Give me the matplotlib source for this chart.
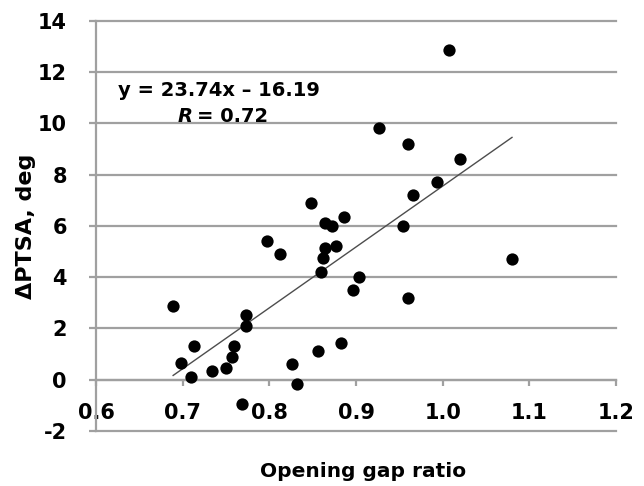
import numpy as np
import matplotlib.pyplot as plt

# opening gap ratio vs change in PTSA (deg)
gap_ratio = np.array([0.689, 0.698, 0.7135, 0.7097, 0.7336, 0.750, 0.7567, 0.7597,
                      0.7732, 0.7725, 0.768, 0.797, 0.8125, 0.8263, 0.8317, 0.856,
                      0.8825, 0.8598, 0.8618, 0.8644, 0.877, 0.897, 0.904, 0.927,
                      0.848, 0.8856, 0.8648, 0.872, 1.0068, 0.960, 1.0195, 0.9934,
                      0.9657, 0.9548, 1.080, 0.9595])
dptsa = np.array([2.87, 0.64, 1.31, 0.12, 0.34, 0.44, 0.90, 1.31,
                  2.52, 2.09, -0.95, 5.40, 4.89, 0.61, -0.17, 1.12,
                  1.42, 4.19, 4.73, 5.12, 5.21, 3.50, 3.99, 9.80,
                  6.90, 6.33, 6.12, 5.99, 12.86, 9.19, 8.59, 7.72,
                  7.20, 5.99, 4.69, 3.20])

slope = 23.74
intercept = -16.19
xticks = [0.6, 0.7, 0.8, 0.9, 1.0, 1.1, 1.2]
xticklabels = ['0.6', '0.7', '0.8', '0.9', '1.0', '1.1', '1.2']
yticks = [-2, 0, 2, 4, 6, 8, 10, 12, 14]

plt.rcParams['font.family'] = 'DejaVu Sans'
plt.rcParams['axes.unicode_minus'] = False

gray = '#a0a0a0'
fig = plt.figure(figsize=(6.44, 4.86), dpi=100)
ax = fig.add_axes([96/644, 1 - 431/486, 520/644, 410.3/486])

ax.set_xlim(0.6, 1.2)
ax.set_ylim(-2, 14)

# horizontal grid lines
for yv in yticks:
    ax.axhline(yv, color=gray, lw=1.6, zorder=1, clip_on=False)

ax.scatter(gap_ratio, dptsa, s=78, color='black', zorder=3, linewidths=0)

xfit = np.array([gap_ratio.min(), gap_ratio.max()])
ax.plot(xfit, slope*xfit + intercept, color='#4d4d4d', lw=1.0, zorder=2)

for s in ['top', 'right']:
    ax.spines[s].set_visible(False)
ax.spines['bottom'].set_position(('data', 0))
for s in ['left', 'bottom']:
    ax.spines[s].set_color(gray)
    ax.spines[s].set_linewidth(1.6)

ax.set_xticks(xticks)
ax.set_xticklabels(xticklabels, fontweight='bold')
ax.set_yticks(yticks)
ax.set_yticklabels([str(v) for v in yticks], fontweight='bold')
ax.tick_params(axis='y', length=5, width=1.6, color=gray, pad=16, labelsize=15)
ax.tick_params(axis='x', length=4.5, width=1.6, color=gray, pad=12, labelsize=15)

ax.set_xlabel('Opening gap ratio', fontsize=14.5, fontweight='bold', va='top')
ax.xaxis.set_label_coords(0.514, -0.0755)
ax.set_ylabel('\u0394PTSA, deg', fontsize=16, fontweight='bold', va='center')
ax.yaxis.set_label_coords(-0.1337, 0.5)

ax.text(0.6254, 11.075, 'y = %.2fx \u2013 %.2f' % (slope, -intercept),
        fontsize=14, fontweight='bold', va='baseline', ha='left')
ax.text(0.6939, 10.06, 'R', fontsize=14, fontweight='bold', style='italic',
        va='baseline', ha='left')
ax.annotate('= 0.72', xy=(0.6939, 10.06), xytext=(14, 0), textcoords='offset points',
            fontsize=14, fontweight='bold', va='baseline', ha='left')

fig.savefig('out.png', dpi=100)
